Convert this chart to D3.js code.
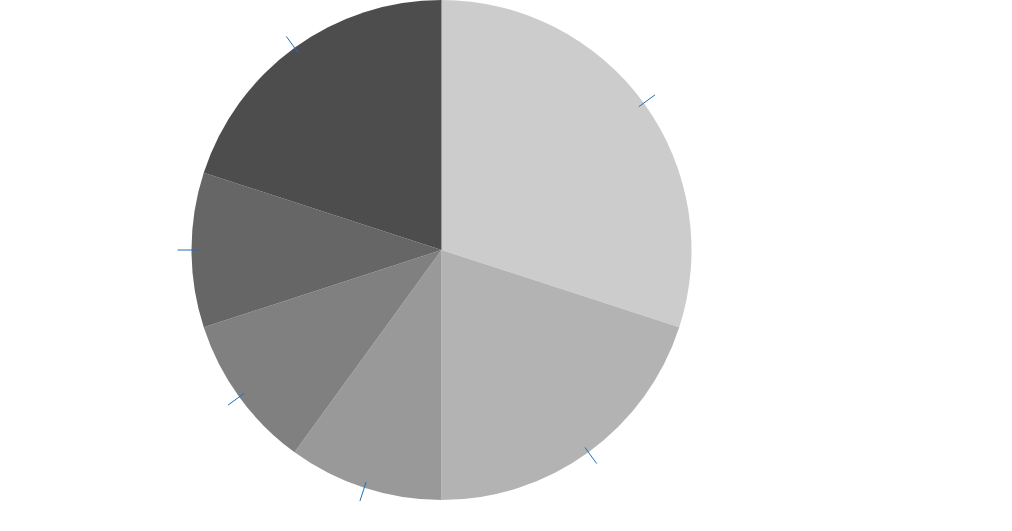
<!DOCTYPE html>
<html>
<head>
<meta charset="utf-8">
<script src="https://cdn.jsdelivr.net/npm/d3@7"></script>
<style>
html,body{margin:0;padding:0;background:#fff;}
svg{display:block;}
</style>
</head>
<body>
<svg id="chart" width="1012" height="531"></svg>
<script>
const categories = ["A", "B", "C", "D", "E", "F"];
const values = [30, 20, 10, 10, 10, 20];
const colors = ["#cccccc", "#b3b3b3", "#999999", "#808080", "#666666", "#4d4d4d"];

const svg = d3.select("#chart");
const cx = 441.5, cy = 250, r = 250;
const g = svg.append("g").attr("transform", `translate(${cx},${cy})`);

const pie = d3.pie().sort(null).value(d => d.v);
const data = categories.map((c, i) => ({c, v: values[i], col: colors[i]}));
const arcs = pie(data);
const arc = d3.arc().innerRadius(0).outerRadius(r);

g.selectAll("path.slice").data(arcs).enter().append("path")
  .attr("class", "slice")
  .attr("d", arc)
  .attr("fill", d => d.data.col);

g.selectAll("line.tick").data(arcs).enter().append("line")
  .attr("class", "tick")
  .each(function(d) {
    const a = (d.startAngle + d.endAngle) / 2;
    const s = Math.sin(a), c = -Math.cos(a);
    d3.select(this)
      .attr("x1", s * (r - 6)).attr("y1", c * (r - 6))
      .attr("x2", s * (r + 14)).attr("y2", c * (r + 14));
  })
  .attr("stroke", "#1f6fc0")
  .attr("stroke-width", 1);
</script>
</body>
</html>
